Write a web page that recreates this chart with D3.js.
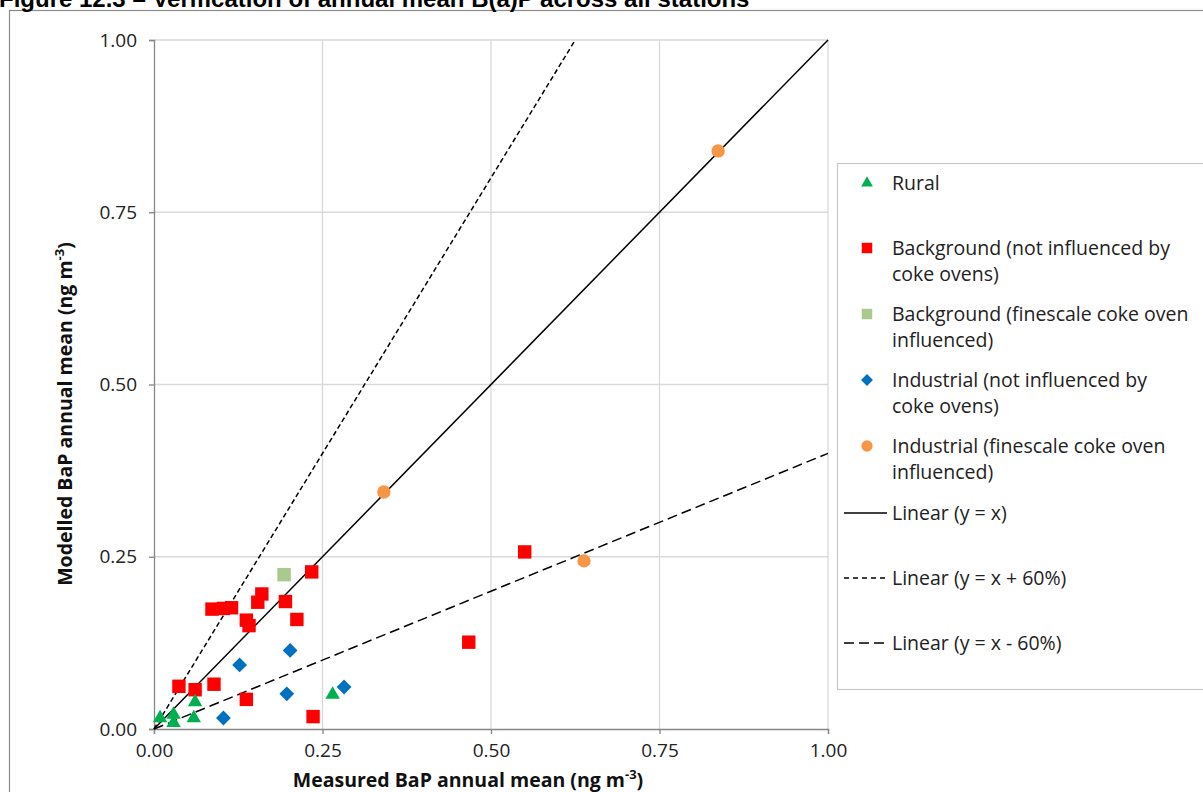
<!DOCTYPE html>
<html><head><meta charset="utf-8">
<script src="https://cdn.jsdelivr.net/npm/d3@7"></script>
<style>body{margin:0;background:#fff;}svg{display:block;}</style>
</head><body>
<svg id="c" width="1203" height="792"></svg>
<script>
const title = "Figure 12.3 – Verification of annual mean B(a)P across all stations";
const ticks = [0, 0.25, 0.5, 0.75, 1.0];
const ruralX = [0.009, 0.029, 0.029, 0.061, 0.059, 0.265];
const ruralY = [0.016, 0.021, 0.009, 0.039, 0.016, 0.050];
const bgX = [0.086, 0.103, 0.115, 0.160, 0.154, 0.137, 0.141, 0.195, 0.212, 0.234, 0.037, 0.061, 0.089, 0.137, 0.236, 0.467, 0.550];
const bgY = [0.174, 0.175, 0.176, 0.196, 0.184, 0.158, 0.150, 0.185, 0.159, 0.228, 0.062, 0.057, 0.065, 0.043, 0.018, 0.126, 0.257];
const bgCokeX = [0.193];
const bgCokeY = [0.224];
const indX = [0.127, 0.202, 0.197, 0.103, 0.282];
const indY = [0.093, 0.114, 0.051, 0.016, 0.061];
const indCokeX = [0.837, 0.341, 0.638];
const indCokeY = [0.839, 0.344, 0.244];
const lineSlopes = [1, 1.6, 0.4];
const legendLabels = [["Rural"], ["Background (not influenced by","coke ovens)"], ["Background (finescale coke oven","influenced)"], ["Industrial (not influenced by","coke ovens)"], ["Industrial (finescale coke oven","influenced)"], ["Linear (y = x)"], ["Linear (y = x + 60%)"], ["Linear (y = x - 60%)"]];

const svg = d3.select("#c");
const F = "'Open Sans', sans-serif";
// outer chart border
svg.append("rect").attr("x",9.5).attr("y",10.5).attr("width",1200).attr("height",800).attr("fill","none").attr("stroke","#8c8c8c").attr("stroke-width",1.2);
svg.append("text").attr("x",-1).attr("y",7).attr("font-family","'Liberation Sans', Arial, sans-serif").attr("font-weight","bold").attr("font-size",24).attr("fill","#000").text(title);

const x = d3.scaleLinear().domain([0,1]).range([154,828]);
const y = d3.scaleLinear().domain([0,1]).range([729,40]);

// grid
svg.append("g").selectAll("line.gx").data(ticks.slice(1)).join("line")
  .attr("x1",d=>x(d)).attr("x2",d=>x(d)).attr("y1",y(0)).attr("y2",y(1)).attr("stroke","#d9d9d9").attr("stroke-width",1.3);
svg.append("g").selectAll("line.gy").data(ticks.slice(1)).join("line")
  .attr("x1",x(0)).attr("x2",x(1)).attr("y1",d=>y(d)).attr("y2",d=>y(d)).attr("stroke","#d9d9d9").attr("stroke-width",1.3);

// axes
const xa = svg.append("g").attr("transform",`translate(0,${y(0)})`).call(d3.axisBottom(x).tickValues(ticks).tickFormat(d3.format(".2f")).tickSize(5).tickPadding(10));
const ya = svg.append("g").attr("transform",`translate(${x(0)},0)`).call(d3.axisLeft(y).tickValues(ticks).tickFormat(d3.format(".2f")).tickSize(5).tickPadding(12));
[xa,ya].forEach(a=>{
  a.select(".domain").attr("stroke","#868686").attr("stroke-width",1.3);
  a.selectAll(".tick line").attr("stroke","#868686").attr("stroke-width",1.3);
  a.selectAll(".tick text").attr("font-family",F).attr("font-size",19).attr("fill","#222");
});

// reference lines
const dashes = [null, "5,3", "10,5"];
lineSlopes.forEach((s,i)=>{
  const xe = Math.min(1, 1/s);
  svg.append("line").attr("x1",x(0)).attr("y1",y(0)).attr("x2",x(xe)).attr("y2",y(s*xe))
    .attr("stroke","#000").attr("stroke-width",1.5).attr("stroke-dasharray",dashes[i]);
});

// markers
const sym = (type,size)=>d3.symbol().type(type).size(size)();
function plot(xs,ys,type,size,color){
  svg.append("g").selectAll("path").data(xs.map((v,i)=>[v,ys[i]])).join("path")
    .attr("transform",d=>`translate(${x(d[0])},${y(d[1])})`).attr("d",sym(type,size)).attr("fill",color);
}
const diamond = {draw(ctx,size){const r=Math.sqrt(size/2);ctx.moveTo(0,-r);ctx.lineTo(r,0);ctx.lineTo(0,r);ctx.lineTo(-r,0);ctx.closePath();}};
plot(bgX,bgY,d3.symbolSquare,180,"#ff0000");
plot(bgCokeX,bgCokeY,d3.symbolSquare,180,"#a9c98e");
plot(indX,indY,diamond,110,"#0070c0");
plot(ruralX,ruralY,d3.symbolTriangle,90,"#00b050");
plot(indCokeX,indCokeY,d3.symbolCircle,140,"#f79646");

// axis titles
svg.append("text").attr("x",468).attr("y",787).attr("text-anchor","middle").attr("font-family",F).attr("font-weight","bold").attr("font-size",19.5).attr("fill","#111")
  .html('Measured BaP annual mean (ng m<tspan dy="-8" font-size="13">-3</tspan><tspan dy="8">)</tspan>');
svg.append("text").attr("transform","translate(72,414) rotate(-90)").attr("text-anchor","middle").attr("font-family",F).attr("font-weight","bold").attr("font-size",19.5).attr("fill","#111")
  .html('Modelled BaP annual mean (ng m<tspan dy="-8" font-size="13">-3</tspan><tspan dy="8">)</tspan>');

// legend
svg.append("rect").attr("x",837.5).attr("y",163.5).attr("width",370).attr("height",526).attr("fill","#fff").attr("stroke","#c8c8c8").attr("stroke-width",1.2);
const legY = [183, 248, 314, 380, 446, 513, 578, 643];
const legSym = [[d3.symbolTriangle,60,"#00b050"],[d3.symbolSquare,110,"#ff0000"],[d3.symbolSquare,110,"#a9c98e"],[diamond,70,"#0070c0"],[d3.symbolCircle,100,"#f79646"]];
const legDash = [null, "5,4", "10,5"];
legendLabels.forEach((lab,i)=>{
  const g = svg.append("g");
  if(i<5){
    g.append("path").attr("transform",`translate(867,${legY[i]})`).attr("d",d3.symbol().type(legSym[i][0]).size(legSym[i][1])()).attr("fill",legSym[i][2]);
  } else {
    g.append("line").attr("x1",844).attr("x2",887).attr("y1",legY[i]).attr("y2",legY[i]).attr("stroke","#000").attr("stroke-width",1.3).attr("stroke-dasharray",legDash[i-5]);
  }
  lab.forEach((t,j)=>{
    g.append("text").attr("x",892).attr("y",legY[i]+j*26).attr("dy","0.35em").attr("font-family",F).attr("font-size",19.5).attr("fill","#222").text(t);
  });
});
</script>
</body></html>
